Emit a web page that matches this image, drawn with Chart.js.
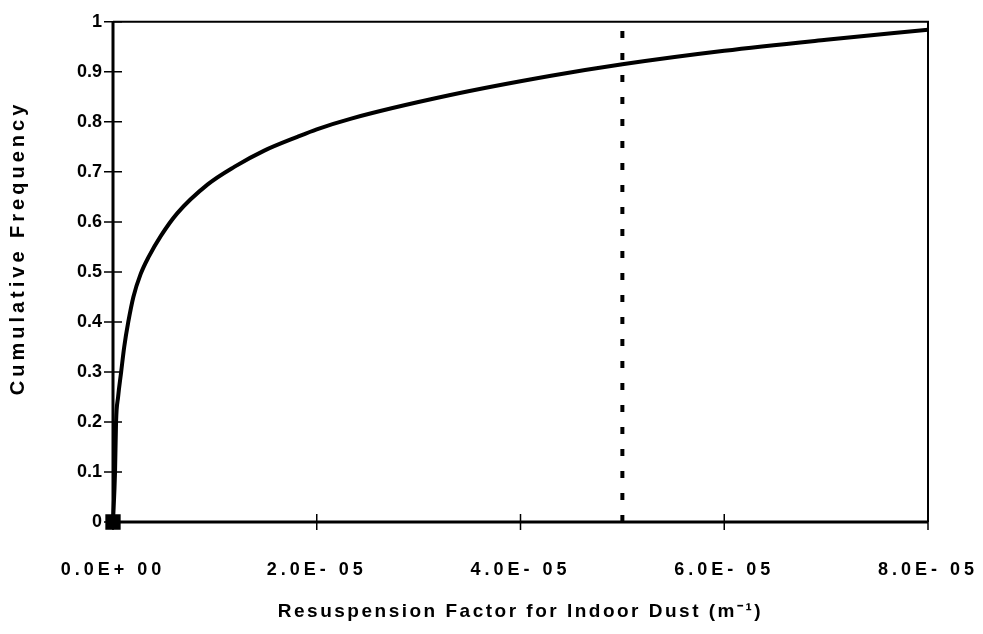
<!DOCTYPE html>
<html>
<head>
<meta charset="utf-8">
<script src="https://cdn.jsdelivr.net/npm/chart.js@4.4.1/dist/chart.umd.min.js"></script>
<style>
    html, body { margin: 0; padding: 0; background: #fff; }
    #wrap { width: 983px; height: 634px; }
</style>
</head>
<body>
<div id="wrap"><canvas id="cdfChart" width="983" height="634"></canvas></div>
<script>
// Resuspension factor (m^-1) vs cumulative frequency
const resuspension = [0, 2e-7, 3e-7, 5e-7, 8e-7, 1.1e-6, 1.5e-6, 2.0e-6, 2.7e-6, 3.5e-6,
    4.7e-6, 6.3e-6, 9.3e-6, 1.19e-5, 1.48e-5, 1.81e-5, 2.0e-5, 2.33e-5, 3.3e-5, 4.3e-5,
    5.0e-5, 6.0e-5, 7.0e-5, 8.0e-5];
const cumFreq = [0, 0.10, 0.20, 0.25, 0.30, 0.35, 0.40, 0.45, 0.495, 0.53,
    0.572, 0.617, 0.675, 0.71, 0.742, 0.77, 0.785, 0.806, 0.853, 0.892,
    0.915, 0.942, 0.964, 0.984];

// vertical dotted marker at 5E-05
const markerX = [5e-5, 5e-5];
const markerY = [0, 1];

const xTicks = [0, 2e-5, 4e-5, 6e-5, 8e-5];
const xTickLabels = ['0.0E+ 00', '2.0E- 05', '4.0E- 05', '6.0E- 05', '8.0E- 05'];

// linear scale that draws its labels / title with extra letter spacing (old excel look)
class SpacedLinearScale extends Chart.LinearScale {
    drawLabels(area) {
        this.ctx.save();
        this.ctx.letterSpacing = this.options.ticks.letterSpacing || '0px';
        super.drawLabels(area);
        this.ctx.restore();
    }
    drawTitle() {
        this.ctx.save();
        this.ctx.letterSpacing = this.options.title.letterSpacing || '0px';
        super.drawTitle();
        this.ctx.restore();
    }
}
SpacedLinearScale.id = 'spacedLinear';
SpacedLinearScale.defaults = Chart.LinearScale.defaults;
Chart.register(SpacedLinearScale);

// frame, crossing tick marks and the y title
const framePlugin = {
    id: 'frame',
    afterDraw(chart) {
        const ctx = chart.ctx;
        const a = chart.chartArea;
        const xs = chart.scales.x, ys = chart.scales.y;
        ctx.save();
        ctx.strokeStyle = '#000';
        ctx.lineWidth = 2;
        ctx.beginPath();
        ctx.moveTo(a.left, a.top);
        ctx.lineTo(a.right, a.top);
        ctx.lineTo(a.right, a.bottom);
        ctx.stroke();
        ctx.lineWidth = 3;
        ctx.beginPath();
        ctx.moveTo(a.left, a.top);
        ctx.lineTo(a.left, a.bottom);
        ctx.lineTo(a.right, a.bottom);
        ctx.stroke();
        ctx.lineWidth = 1.5;
        ctx.beginPath();
        ys.ticks.forEach(t => {
            const y = ys.getPixelForValue(t.value);
            ctx.moveTo(a.left - 9, y);
            ctx.lineTo(a.left + 9, y);
        });
        xTicks.forEach(v => {
            const x = xs.getPixelForValue(v);
            ctx.moveTo(x, a.bottom - 8);
            ctx.lineTo(x, a.bottom + 8);
        });
        ctx.stroke();

        // y title sits a bit above the middle of the axis in the original
        ctx.translate(18, 250);
        ctx.rotate(-Math.PI / 2);
        ctx.letterSpacing = '4px';
        ctx.font = 'bold 20px "Liberation Sans"';
        ctx.fillStyle = '#000';
        ctx.textAlign = 'center';
        ctx.textBaseline = 'middle';
        ctx.fillText('Cumulative Frequency', 2, 0);
        ctx.restore();
    }
};

document.addEventListener('DOMContentLoaded', function() {
    const ctx = document.getElementById('cdfChart').getContext('2d');

    new Chart(ctx, {
        type: 'line',
        data: {
            datasets: [{
                label: 'Cumulative Frequency',
                data: resuspension.map((x, i) => ({ x: x, y: cumFreq[i] })),
                borderColor: '#000',
                backgroundColor: '#000',
                borderWidth: 4,
                cubicInterpolationMode: 'monotone',
                pointStyle: 'rect',
                pointRadius: c => c.dataIndex === 0 ? 8 : 0,
                clip: false
            }, {
                label: 'marker',
                data: markerX.map((x, i) => ({ x: x, y: markerY[i] })),
                borderColor: '#000',
                borderWidth: 4,
                borderDash: [7, 15],
                pointRadius: 0
            }]
        },
        options: {
            responsive: false,
            animation: false,
            layout: { padding: { top: 20, right: 55, bottom: 10, left: 4 } },
            plugins: { legend: { display: false }, tooltip: { enabled: false } },
            scales: {
                x: {
                    type: 'spacedLinear',
                    min: 0,
                    max: 8e-5,
                    afterBuildTicks: s => { s.ticks = xTicks.map(v => ({ value: v })); },
                    afterFit: s => { s.height = 102; s.paddingLeft = 0; s.paddingRight = 0; },
                    grid: { display: false, drawTicks: false },
                    border: { display: false },
                    ticks: {
                        padding: 37,
                        maxRotation: 0,
                        color: '#000',
                        letterSpacing: '4px',
                        font: { family: 'Liberation Sans', size: 18, weight: 'bold' },
                        callback: (v, i) => xTickLabels[i]
                    },
                    title: {
                        display: true,
                        text: 'Resuspension Factor for Indoor Dust (m⁻¹)',
                        color: '#000',
                        letterSpacing: '2.5px',
                        padding: { top: 0, bottom: 1 },
                        font: { family: 'Liberation Sans', size: 19, weight: 'bold' }
                    }
                },
                y: {
                    min: 0,
                    max: 1,
                    afterFit: s => { s.width = 109; },
                    grid: { display: false, drawTicks: false },
                    border: { display: false },
                    ticks: {
                        stepSize: 0.1,
                        padding: 11,
                        color: '#000',
                        font: { family: 'Liberation Sans', size: 18, weight: 'bold' },
                        callback: v => String(+v.toFixed(1))
                    },
                    title: { display: false }
                }
            }
        },
        plugins: [framePlugin]
    });
});
</script>
</body>
</html>
